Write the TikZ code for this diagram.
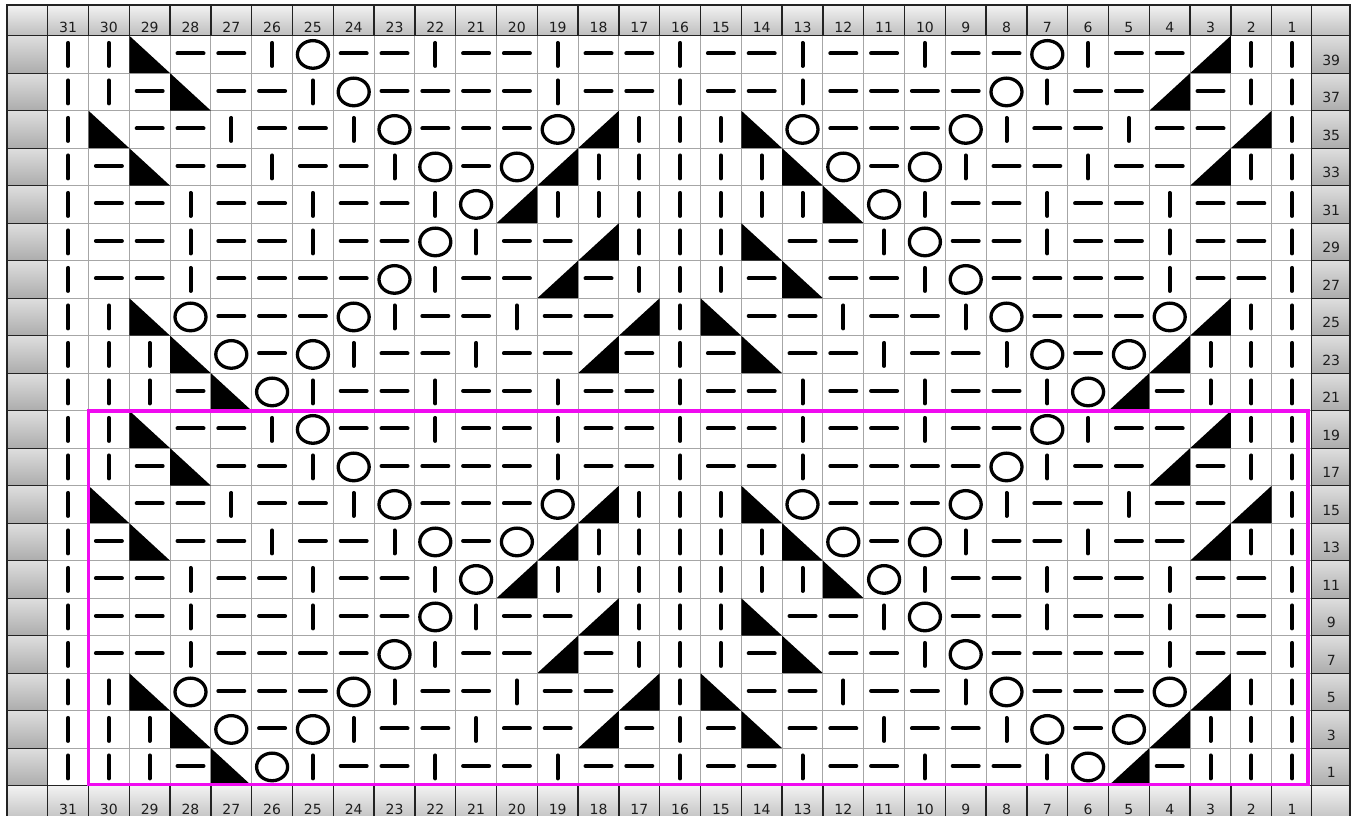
\documentclass[tikz,border=0pt]{standalone}
\usepackage{fontspec}
\setmainfont{DejaVu Sans}
\definecolor{gridgray}{RGB}{166,166,166}
\definecolor{cellline}{RGB}{35,35,35}
\definecolor{hdrtop}{RGB}{242,242,242}
\definecolor{hdrbot}{RGB}{190,190,190}
\definecolor{sidetop}{RGB}{222,222,222}
\definecolor{sidebot}{RGB}{172,172,172}
\definecolor{lbltext}{RGB}{30,30,30}
\definecolor{repeatbox}{RGB}{240,10,240}
\tikzset{
  gridline/.style={draw=gridgray, line width=1},
  hdrcell/.style={top color=hdrtop, bottom color=hdrbot, draw=cellline, line width=1.3},
  sidecell/.style={top color=sidetop, bottom color=sidebot, draw=cellline, line width=1.3},
  lbl/.style={anchor=base, inner sep=0pt, text=lbltext, font=\fontsize{14}{16}\selectfont},
  stitch/.style={line width=4, line cap=round, black},
  yarnover/.style={line width=3.3, black},
  repeatframe/.style={draw=repeatbox, line width=3.8}
}
\newcommand\SymK{\draw[stitch] (0,-11.5) -- (0,11.5);}
\newcommand\SymP{\draw[stitch] (-13,1) -- (13,1);}
\newcommand\SymO{\draw[yarnover] (0,0) ellipse [x radius=15.5, y radius=13.8];}
\newcommand\SymL{\fill[black] (-20.4,18.75) -- (-20.4,-18.75) -- (20.4,-18.75) -- cycle;}
\newcommand\SymR{\fill[black] (20.4,18.75) -- (20.4,-18.75) -- (-20.4,-18.75) -- cycle;}
\def\Xo{47.7}
\def\CW{40.8}
\def\Tt{780.3}
\def\RH{37.5}
\def\Xr{1311.7}
\def\Bt{30.3}
\newcommand\chartrow[2]{%
  \foreach \off in {0,10}{%
    \foreach \s [count=\j from 0] in {#2}{%
      \pgfmathsetmacro\cx{\Xo+(\j+0.5)*\CW}%
      \pgfmathsetmacro\cy{\Tt-(#1+\off+0.5)*\RH}%
      \begin{scope}[shift={(\cx,\cy)}]\csname Sym\s\endcsname\end{scope}%
    }%
  }%
}
\begin{document}
\begin{tikzpicture}[x=1pt,y=1pt]
\useasboundingbox (0,0) rectangle (1355,816);
\clip (0,0) rectangle (1355,816);
\fill[white] (0,0) rectangle (1355,816);
% grid of the chart
\foreach \j in {1,...,30} \draw[gridline] ({\Xo+\j*\CW},\Bt) -- ({\Xo+\j*\CW},\Tt);
\foreach \i in {1,...,19} \draw[gridline] (\Xo,{\Tt-\i*\RH}) -- (\Xr,{\Tt-\i*\RH});
% column headers
\foreach \j in {0,...,30}{
  \pgfmathtruncatemacro\num{31-\j}
  \path[hdrcell] ({\Xo+\j*\CW},\Tt) rectangle ({\Xo+(\j+1)*\CW},811);
  \node[lbl] (top\num) at ({\Xo+(\j+0.5)*\CW},783.5) {\num};
  \path[hdrcell] ({\Xo+\j*\CW},-6) rectangle ({\Xo+(\j+1)*\CW},\Bt);
  \node[lbl] (bot\num) at ({\Xo+(\j+0.5)*\CW},1) {\num};
}
% side columns
\foreach \i in {0,...,19}{
  \pgfmathtruncatemacro\num{39-2*\i}
  \path[sidecell] (7,{\Tt-\i*\RH}) rectangle (\Xo,{\Tt-(\i+1)*\RH});
  \path[sidecell] (\Xr,{\Tt-\i*\RH}) rectangle (1350,{\Tt-(\i+1)*\RH});
  \node[lbl] (row\num) at ({\Xr+19.5},{\Tt-(\i+1)*\RH+8}) {\num};
}
% corners
\path[hdrcell] (7,\Tt) rectangle (\Xo,811);
\path[hdrcell] (\Xr,\Tt) rectangle (1350,811);
\path[hdrcell] (7,-6) rectangle (\Xo,\Bt);
\path[hdrcell] (\Xr,-6) rectangle (1350,\Bt);
% stitches
\chartrow{0}{K,K,L,P,P,K,O,P,P,K,P,P,K,P,P,K,P,P,K,P,P,K,P,P,O,K,P,P,R,K,K}
\chartrow{1}{K,K,P,L,P,P,K,O,P,P,P,P,K,P,P,K,P,P,K,P,P,P,P,O,K,P,P,R,P,K,K}
\chartrow{2}{K,L,P,P,K,P,P,K,O,P,P,P,O,R,K,K,K,L,O,P,P,P,O,K,P,P,K,P,P,R,K}
\chartrow{3}{K,P,L,P,P,K,P,P,K,O,P,O,R,K,K,K,K,K,L,O,P,O,K,P,P,K,P,P,R,K,K}
\chartrow{4}{K,P,P,K,P,P,K,P,P,K,O,R,K,K,K,K,K,K,K,L,O,K,P,P,K,P,P,K,P,P,K}
\chartrow{5}{K,P,P,K,P,P,K,P,P,O,K,P,P,R,K,K,K,L,P,P,K,O,P,P,K,P,P,K,P,P,K}
\chartrow{6}{K,P,P,K,P,P,P,P,O,K,P,P,R,P,K,K,K,P,L,P,P,K,O,P,P,P,P,K,P,P,K}
\chartrow{7}{K,K,L,O,P,P,P,O,K,P,P,K,P,P,R,K,L,P,P,K,P,P,K,O,P,P,P,O,R,K,K}
\chartrow{8}{K,K,K,L,O,P,O,K,P,P,K,P,P,R,P,K,P,L,P,P,K,P,P,K,O,P,O,R,K,K,K}
\chartrow{9}{K,K,K,P,L,O,K,P,P,K,P,P,K,P,P,K,P,P,K,P,P,K,P,P,K,O,R,P,K,K,K}
% repeat frame
\draw[repeatframe] (88.5,405.3) rectangle (1308,31.5);
\end{tikzpicture}
\end{document}
